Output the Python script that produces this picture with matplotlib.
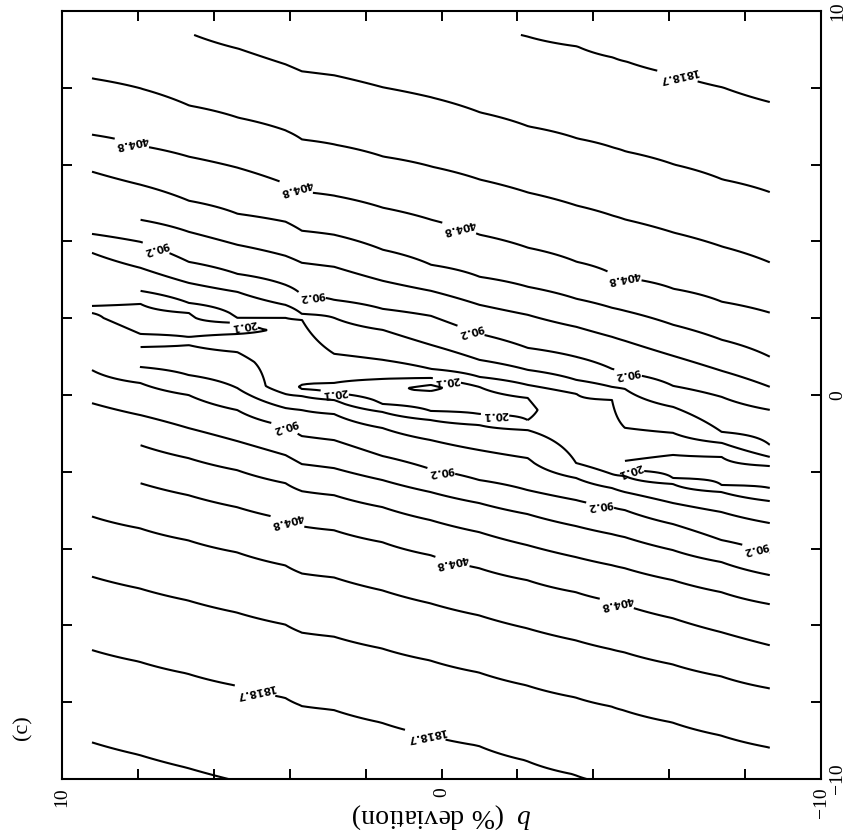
import numpy as np
import matplotlib
matplotlib.use("Agg")
import matplotlib.pyplot as plt

# b (% deviation) of each sampled grid column, left to right
b_cols = [9.21, 7.93, 6.66, 5.38, 4.11, 3.68, 2.83, 1.55, 0.28,
          -1.00, -2.27, -3.55, -4.49, -4.83, -6.10, -7.38, -8.65]

# For every column: (y, ln misfit) samples, from the top of the grid down
col_00 = [(9.375, 6.80), (8.229, 6.5), (6.770, 6.0), (5.807, 5.5), (4.687, 5.0),
          (4.192, 4.5), (3.697, 4.0), (2.864, 3.5), (2.317, 3.0), (2.213, 2.9),
          (2.135, 3.0), (1.302, 3.5), (0.911, 4.0), (0.651, 4.5), (-0.209, 5.0),
          (-1.173, 5.5), (-2.214, 6.0), (-3.152, 6.5), (-4.714, 7.0), (-6.615, 7.5),
          (-9.011, 8.0), (-11.589, 8.45)]
col_01 = [(9.375, 6.875), (7.968, 6.5), (6.484, 6.0), (5.468, 5.5), (4.557, 5.0),
          (3.984, 4.5), (3.307, 4.0), (2.708, 3.5), (2.369, 3.0), (2.005, 2.75),
          (1.588, 3.0), (1.250, 3.5), (0.729, 4.0), (0.312, 4.5), (-0.521, 5.0),
          (-1.303, 5.5), (-2.292, 6.0), (-3.464, 6.5), (-5.027, 7.0), (-6.928, 7.5),
          (-9.349, 8.0), (-11.589, 8.4)]
col_02 = [(9.375, 6.99), (7.526, 6.5), (6.197, 6.0), (5.052, 5.5), (4.244, 5.0),
          (3.463, 4.5), (2.916, 4.0), (2.395, 3.5), (2.135, 3.0), (1.822, 2.8),
          (1.510, 3.0), (1.302, 3.5), (0.520, 4.0), (0.000, 4.5), (-0.860, 5.0),
          (-1.641, 5.5), (-2.605, 6.0), (-3.777, 6.5), (-5.339, 7.0), (-7.240, 7.5),
          (-9.688, 8.0), (-11.589, 8.35)]
col_03 = [(9.375, 7.125), (9.010, 7.0), (7.213, 6.5), (5.911, 6.0), (4.713, 5.5),
          (3.906, 5.0), (3.151, 4.5), (2.682, 4.0), (2.005, 3.5), (1.875, 3.0),
          (1.744, 2.9), (1.588, 3.0), (1.119, 3.5), (0.182, 4.0), (-0.391, 4.5),
          (-1.198, 5.0), (-1.954, 5.5), (-2.917, 6.0), (-4.089, 6.5), (-5.652, 7.0),
          (-7.553, 7.5), (-10.027, 8.0), (-11.589, 8.3)]
col_04 = [(9.375, 7.225), (8.593, 7.0), (6.875, 6.5), (5.494, 6.0), (4.505, 5.5),
          (3.619, 5.0), (2.864, 4.5), (2.343, 4.0), (2.005, 3.5), (1.692, 3.04),
          (1.302, 3.1), (0.859, 3.25), (0.234, 3.175), (0.026, 3.5), (-0.339, 4.0),
          (-0.808, 4.5), (-1.563, 5.0), (-2.292, 5.5), (-3.230, 6.0), (-4.428, 6.5),
          (-5.964, 7.0), (-7.865, 7.5), (-10.339, 8.0), (-11.589, 8.25)]
col_05 = [(9.375, 7.275), (8.411, 7.0), (6.640, 6.5), (5.286, 6.0), (4.270, 5.5),
          (3.437, 5.0), (2.604, 4.5), (2.109, 4.0), (1.953, 3.5), (1.171, 3.25),
          (0.260, 3.0), (0.208, 2.95), (0.156, 3.0), (-0.027, 3.5), (-0.391, 4.0),
          (-1.068, 4.5), (-1.797, 5.0), (-2.500, 5.5), (-3.412, 6.0), (-4.636, 6.5),
          (-6.172, 7.0), (-8.073, 7.5), (-10.573, 8.0), (-11.589, 8.2)]
col_06 = [(9.375, 7.3), (8.307, 7.0), (6.510, 6.5), (5.182, 6.0), (4.166, 5.5),
          (3.333, 5.0), (2.474, 4.5), (2.005, 4.0), (1.067, 3.5), (0.312, 3.0),
          (0.182, 2.85), (0.052, 3.0), (-0.131, 3.5), (-0.495, 4.0), (-1.173, 4.5),
          (-1.902, 5.0), (-2.605, 5.5), (-3.516, 6.0), (-4.740, 6.5), (-6.277, 7.0),
          (-8.178, 7.5), (-10.678, 8.0), (-11.589, 8.175)]
col_07 = [(9.375, 7.35), (7.994, 7.0), (6.197, 6.5), (4.869, 6.0), (3.776, 5.5),
          (2.968, 5.0), (2.239, 4.5), (1.692, 4.0), (0.911, 3.5), (0.416, 3.0),
          (0.130, 2.6), (-0.235, 3.0), (-0.443, 3.5), (-0.860, 4.0), (-1.589, 4.5),
          (-2.214, 5.0), (-2.917, 5.5), (-3.829, 6.0), (-5.079, 6.5), (-6.589, 7.0),
          (-8.516, 7.5), (-11.016, 8.0), (-11.589, 8.1)]
col_08 = [(9.375, 7.4), (7.734, 7.0), (5.937, 6.5), (4.557, 6.0), (3.385, 5.5),
          (2.708, 5.0), (2.057, 4.5), (1.302, 4.0), (0.677, 3.5), (0.442, 3.0),
          (0.260, 2.5), (0.182, 2.35), (0.104, 2.5), (-0.417, 3.0), (-0.652, 3.5),
          (-1.173, 4.0), (-1.928, 4.5), (-2.527, 5.0), (-3.256, 5.5), (-4.167, 6.0),
          (-5.417, 6.5), (-6.902, 7.0), (-8.855, 7.5), (-11.329, 8.0), (-11.589, 8.03)]
col_09 = [(9.375, 7.45), (7.343, 7.0), (5.598, 6.5), (4.166, 6.0), (3.072, 5.5),
          (2.343, 5.0), (1.588, 4.5), (0.911, 4.0), (0.468, 3.5), (0.208, 3.0),
          (-0.131, 2.75), (-0.495, 3.0), (-0.782, 3.5), (-1.433, 4.0), (-2.214, 4.5),
          (-2.813, 5.0), (-3.568, 5.5), (-4.506, 6.0), (-5.730, 6.5), (-7.214, 7.0),
          (-9.115, 7.5), (-11.589, 7.95)]
col_10 = [(9.375, 7.515), (6.979, 7.0), (5.260, 6.5), (3.828, 6.0), (2.812, 5.5),
          (2.083, 5.0), (1.223, 4.5), (0.651, 4.0), (0.260, 3.5), (-0.079, 3.0),
          (-0.391, 2.9), (-0.652, 3.0), (-0.912, 3.5), (-1.641, 4.0), (-2.475, 4.5),
          (-3.099, 5.0), (-3.907, 5.5), (-4.818, 6.0), (-6.068, 6.5), (-7.553, 7.0),
          (-9.506, 7.5), (-11.589, 7.85)]
col_11 = [(9.375, 7.6), (9.062, 7.5), (6.666, 7.0), (4.921, 6.5), (3.463, 6.0),
          (2.500, 5.5), (1.770, 5.0), (0.989, 4.5), (0.390, 4.0), (0.026, 3.5),
          (-0.912, 3.25), (-1.771, 3.5), (-2.162, 4.0), (-2.735, 4.5), (-3.412, 5.0),
          (-4.219, 5.5), (-5.131, 6.0), (-6.381, 6.5), (-7.865, 7.0), (-9.870, 7.5),
          (-11.589, 7.75)]
col_12 = [(9.375, 7.69), (8.776, 7.5), (6.432, 7.0), (4.661, 6.5), (3.151, 6.0),
          (2.265, 5.5), (1.510, 5.0), (0.677, 4.5), (0.208, 4.0), (-0.131, 3.5),
          (-1.745, 3.15), (-2.058, 3.5), (-2.422, 4.0), (-2.917, 4.5), (-3.620, 5.0),
          (-4.428, 5.5), (-5.365, 6.0), (-6.615, 6.5), (-8.099, 7.0), (-10.105, 7.5),
          (-11.589, 7.72)]
col_13 = [(9.375, 7.725), (8.671, 7.5), (6.328, 7.0), (4.557, 6.5), (3.046, 6.0),
          (2.187, 5.5), (1.406, 5.0), (0.572, 4.5), (0.156, 4.0), (-0.860, 3.5),
          (-1.719, 3.0), (-1.849, 2.95), (-1.954, 3.0), (-2.110, 3.5), (-2.527, 4.0),
          (-2.995, 4.5), (-3.698, 5.0), (-4.506, 5.5), (-5.469, 6.0), (-6.693, 6.5),
          (-8.204, 7.0), (-10.209, 7.5), (-11.589, 7.7)]
col_14 = [(9.375, 7.8), (8.333, 7.5), (5.989, 7.0), (4.218, 6.5), (2.760, 6.0),
          (1.822, 5.5), (1.015, 5.0), (0.234, 4.5), (-0.313, 4.0), (-0.990, 3.5),
          (-1.563, 3.0), (-1.875, 2.8), (-2.162, 3.0), (-2.318, 3.5), (-2.813, 4.0),
          (-3.360, 4.5), (-4.037, 5.0), (-4.818, 5.5), (-5.808, 6.0), (-7.006, 6.5),
          (-8.516, 7.0), (-10.547, 7.5), (-11.589, 7.65)]
col_15 = [(9.375, 7.875), (7.994, 7.5), (5.598, 7.0), (3.854, 6.5), (2.421, 6.0),
          (1.432, 5.5), (0.625, 5.0), (-0.053, 4.5), (-0.964, 4.0), (-1.250, 3.5),
          (-1.615, 3.0), (-1.980, 2.8), (-2.344, 3.0), (-2.527, 3.5), (-3.047, 4.0),
          (-3.777, 4.5), (-4.349, 5.0), (-5.131, 5.5), (-6.172, 6.0), (-7.318, 6.5),
          (-8.855, 7.0), (-10.886, 7.5), (-11.589, 7.6)]
col_16 = [(9.375, 7.95), (7.604, 7.5), (5.260, 7.0), (3.437, 6.5), (2.135, 6.0),
          (0.989, 5.5), (0.208, 5.0), (-0.391, 4.5), (-1.303, 4.0), (-1.615, 3.5),
          (-1.849, 3.0), (-2.136, 2.8), (-2.422, 3.0), (-2.761, 3.5), (-3.334, 4.0),
          (-4.115, 4.5), (-4.688, 5.0), (-5.443, 5.5), (-6.511, 6.0), (-7.631, 6.5),
          (-9.167, 7.0), (-11.224, 7.5), (-11.589, 7.55)]

# y ranges of the first column that have no samples
first_col_gaps = [(4.40, 5.29), (2.53, 3.18), (0.73, 1.51), (-2.74, -0.78)]

# contour values; the labelled ones are printed along their lines
plain_values = [12.2, 33.2, 54.7, 148.8, 245.5, 668.1, 1102.0, 2999.9]
labelled_values = [20.1, 90.2, 404.8, 1818.7]

# (b, y) spots for the contour labels
label_spots = [(-6.21, 8.28),
               (8.16, 6.56), (3.81, 5.44), (-0.46, 4.32), (-4.81, 3.05),
               (7.52, 3.83), (3.41, 2.66), (-0.78, 1.69), (-4.91, 0.55),
               (5.20, 1.88), (2.81, 0.10), (-0.14, 0.36), (-1.41, -0.55), (-4.97, -1.88),
               (4.12, -0.81), (0.01, -2.01), (-4.18, -2.87), (-8.26, -4.12),
               (4.04, -3.23), (-0.28, -4.38), (-4.62, -5.42),
               (4.91, -7.68), (0.43, -8.86)]

tick_vals = [-10, -8, -6, -4, -2, 0, 2, 4, 6, 8, 10]
tick_text = ["\u221210", "", "", "", "", "0", "", "", "", "", "10"]

plt.rcParams["font.family"] = ["Liberation Serif", "DejaVu Serif"]
plt.rcParams["mathtext.fontset"] = "custom"
plt.rcParams["mathtext.it"] = "Liberation Serif:italic"
plt.rcParams["mathtext.rm"] = "Liberation Serif"

fig = plt.figure(figsize=(8.53, 8.35), dpi=100)
ax = fig.add_axes([0.0727, 0.0671, 0.8898, 0.9198])

# rebuild the gridded field column by column
profiles = [col_00, col_01, col_02, col_03, col_04, col_05, col_06, col_07, col_08,
            col_09, col_10, col_11, col_12, col_13, col_14, col_15, col_16]
y_grid = np.linspace(-11.589, 9.375, 1500)
field = np.empty((y_grid.size, len(b_cols)))
for j, prof in enumerate(profiles):
    ys, zs = np.array(prof).T
    field[:, j] = np.interp(y_grid, ys[::-1], zs[::-1])
missing = np.zeros(field.shape, dtype=bool)
for lo, hi in first_col_gaps:
    missing[(y_grid >= lo) & (y_grid <= hi), 0] = True
field = np.ma.array(field, mask=missing)

B, Y = np.meshgrid(b_cols, y_grid)
ax.contour(B, Y, field, levels=np.log(plain_values), colors="black", linewidths=1.5)
cs = ax.contour(B, Y, field, levels=np.log(labelled_values), colors="black",
                linewidths=1.5)

fmt = {lv: f"{v:g}" for lv, v in zip(cs.levels, labelled_values)}
with plt.rc_context({"font.family": "DejaVu Sans", "font.weight": "bold"}):
    texts = ax.clabel(cs, fmt=fmt, manual=label_spots,
                      inline=True, inline_spacing=3, fontsize=7.5)
for t in texts:
    t.set_rotation(t.get_rotation() + 180)

ax.set_xlim(10, -10)
ax.set_ylim(-10, 10)
ax.set_xticks(tick_vals)
ax.set_xticklabels(tick_text)
ax.set_yticks(tick_vals)
ax.set_yticklabels(tick_text)
ax.tick_params(direction="in", length=7, width=1.4, top=True, bottom=True,
               left=True, right=True, labelleft=False, labelright=True,
               labelsize=14, pad=6)
for lab in ax.get_xticklabels():
    lab.set_rotation(90)
for lab in ax.get_yticklabels():
    lab.set_rotation(90)
    lab.set_va("center")
for sp in ax.spines.values():
    sp.set_linewidth(1.5)

ax.set_xlabel(r"$b$  (% deviation)", fontsize=20, rotation=180)
ax.xaxis.set_label_coords(0.5, -0.029)
fig.text(0.027, 0.129, "(c)", rotation=90, fontsize=16, ha="center", va="center")

fig.savefig("out.png", dpi=100)
